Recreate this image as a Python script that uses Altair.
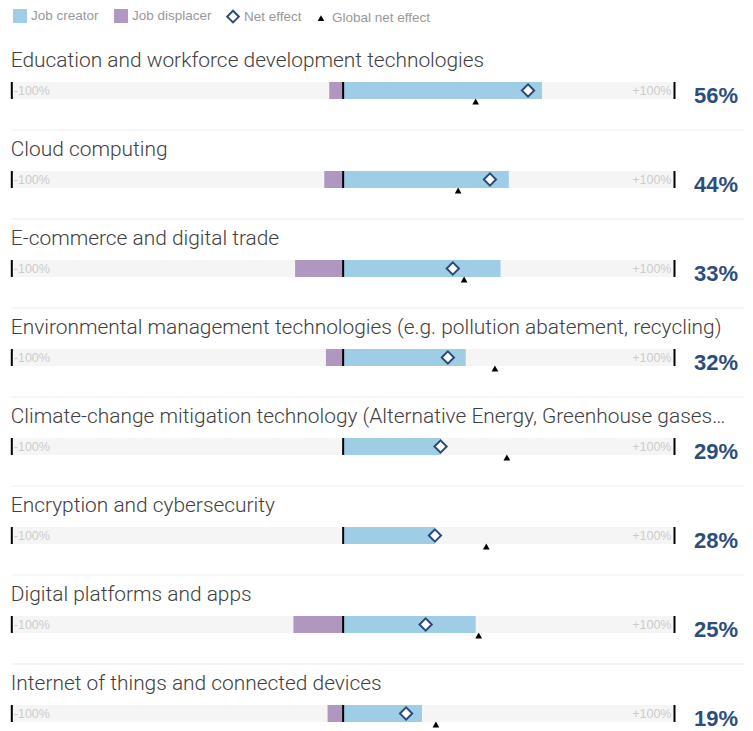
import altair as alt
import pandas as pd

categories = [
    "Education and workforce development technologies",
    "Cloud computing",
    "E-commerce and digital trade",
    "Environmental management technologies (e.g. pollution abatement, recycling)",
    "Climate-change mitigation technology (Alternative Energy, Greenhouse gases…",
    "Encryption and cybersecurity",
    "Digital platforms and apps",
    "Internet of things and connected devices",
]
job_creator = [60, 50, 47.5, 37, 29.4, 27.7, 40, 23.8]
job_displacer = [-4.2, -5.7, -14.5, -5.2, 0, 0, -15, -4.7]
net_effect = [55.8, 44.3, 33.1, 31.6, 29.4, 27.7, 24.9, 19]
global_net_effect = [40, 34.7, 36.5, 45.8, 49.4, 43.2, 40.9, 28]
net_labels = ["56%", "44%", "33%", "32%", "29%", "28%", "25%", "19%"]
axis_ticks = [-100, 0, 100]
items = ["Job creator", "Job displacer", "Net effect", "Global net effect"]

rows = pd.DataFrame({
    "category": categories,
    "creator": job_creator,
    "displacer": job_displacer,
    "net": net_effect,
    "global": global_net_effect,
    "label": net_labels,
    "lo": -100,
    "hi": 100,
    "sep_end": 121,
    "pct_pos": 119.2,
    "zero": 0,
})
bars = pd.concat([
    pd.DataFrame({"category": categories, "value": job_creator, "item": "Job creator"}),
    pd.DataFrame({"category": categories, "value": job_displacer, "item": "Job displacer"}),
])
bars["zero"] = 0
ticks = pd.DataFrame([{"category": c, "t": t} for c in categories for t in axis_ticks])

HEIGHT = 723
STEP = 89.0
BAR_OFF = 38
TRI_SIZE = 45
xscale = alt.Scale(domain=[-100, 100], range=[3.8, 666.5])
yenc = alt.Y("category:N", sort=categories, axis=None,
             scale=alt.Scale(paddingInner=0,
                             paddingOuter=(HEIGHT / STEP - len(categories)) / 2,
                             align=0))

fill_scale = alt.Scale(domain=items, range=["#a0cde6", "#b097bf", "#ffffff", "#000000"])
stroke_scale = alt.Scale(domain=items, range=["transparent", "transparent", "#2b4a7b", "transparent"])
shape_scale = alt.Scale(domain=items, range=["square", "square", "diamond", "triangle-up"])

legend = alt.Legend(
    title=None, orient="none", legendX=4, legendY=0, direction="horizontal",
    labelColor="#999999", labelFontSize=13.5, labelFont="Liberation Sans",
    symbolStrokeWidth=2, columnPadding=11, labelOffset=3, padding=0,
    symbolOpacity=1,
    symbolSize=alt.ExprRef(expr=f"datum.label === 'Global net effect' ? {TRI_SIZE} : "
                                "(datum.label === 'Net effect' ? 135 : 196)"),
)

def X(field):
    return alt.X(field, type="quantitative", scale=xscale, axis=None)

base = alt.Chart(rows)

background = base.mark_bar(size=17, color="#f5f5f5", yOffset=BAR_OFF).encode(
    x=X("lo"), x2="hi:Q", y=yenc
)

separators = alt.Chart(rows.iloc[:-1]).mark_rule(
    color="#ececec", strokeWidth=1, yOffset=77.5
).encode(x=X("lo"), x2="sep_end:Q", y=yenc)

minus_lbl = base.mark_text(
    align="left", baseline="alphabetic", dx=2, fontSize=12.5, color="#cccccc",
    font="Liberation Sans", yOffset=BAR_OFF + 4.5, text="-100%"
).encode(x=X("lo"), y=yenc)

plus_lbl = base.mark_text(
    align="right", baseline="alphabetic", dx=-3, fontSize=12.5, color="#cccccc",
    font="Liberation Sans", yOffset=BAR_OFF + 4.5, text="+100%"
).encode(x=X("hi"), y=yenc)

value_bars = alt.Chart(bars).mark_bar(size=17, yOffset=BAR_OFF, opacity=1).encode(
    x=X("value"),
    x2="zero:Q",
    y=yenc,
    fill=alt.Fill("item:N", scale=fill_scale, legend=legend),
    stroke=alt.Stroke("item:N", scale=stroke_scale, legend=legend),
)

tick_marks = alt.Chart(ticks).mark_tick(
    thickness=2, size=17, color="black", opacity=1, yOffset=BAR_OFF
).encode(x=X("t"), y=yenc)

diamonds = base.transform_calculate(item="'Net effect'").mark_point(
    filled=True, opacity=1, strokeWidth=2, size=150, yOffset=BAR_OFF
).encode(
    x=X("net"),
    y=yenc,
    fill=alt.Fill("item:N", scale=fill_scale, legend=legend),
    stroke=alt.Stroke("item:N", scale=stroke_scale, legend=legend),
    shape=alt.Shape("item:N", scale=shape_scale, legend=legend),
)

triangles = base.transform_calculate(item="'Global net effect'").mark_point(
    filled=True, opacity=1, strokeWidth=0, size=TRI_SIZE, yOffset=49
).encode(
    x=X("global"),
    y=yenc,
    fill=alt.Fill("item:N", scale=fill_scale, legend=legend),
    stroke=alt.Stroke("item:N", scale=stroke_scale, legend=legend),
    shape=alt.Shape("item:N", scale=shape_scale, legend=legend),
)

titles = base.mark_text(
    align="left", baseline="alphabetic", dx=-1, fontSize=20.9, color="#404040",
    font="Roboto", fontWeight=300, yOffset=14.5
).encode(x=X("lo"), y=yenc, text="category:N")

pct = base.mark_text(
    align="right", baseline="alphabetic", fontSize=22, fontWeight="bold",
    color="#2d4e7d", font="Liberation Sans", yOffset=50
).encode(x=X("pct_pos"), y=yenc, text="label:N")

chart = alt.layer(
    background, separators, minus_lbl, plus_lbl, value_bars, tick_marks,
    diamonds, triangles, titles, pct
).properties(
    width=737, height=HEIGHT, padding=0,
    autosize=alt.AutoSizeParams(type="none"),
).configure_view(strokeWidth=0)

chart.save("out.html", embed_options={"renderer": "svg", "actions": False})
